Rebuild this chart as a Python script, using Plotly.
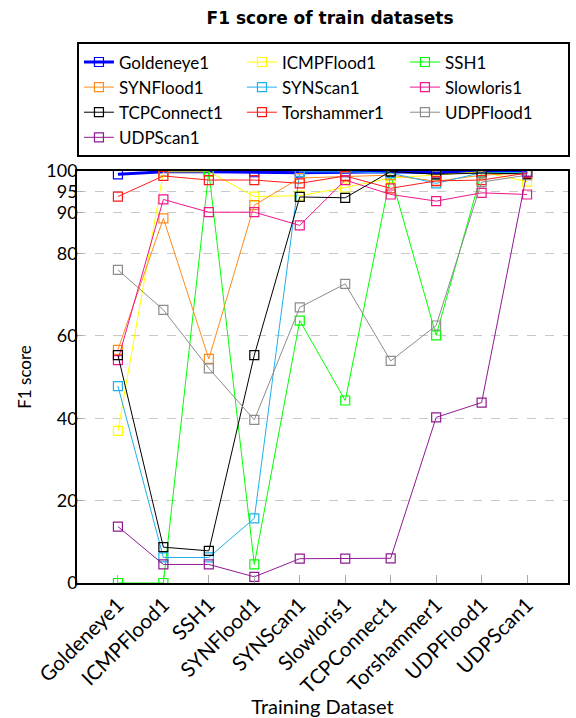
import plotly.graph_objects as go

# Training datasets (x axis)
categories = ["Goldeneye1", "ICMPFlood1", "SSH1", "SYNFlood1", "SYNScan1",
              "Slowloris1", "TCPConnect1", "Torshammer1", "UDPFlood1", "UDPScan1"]

# F1 score of each test dataset, per training dataset
goldeneye1 = [99.2, 99.8, 99.8, 99.7, 99.6, 99.7, 99.8, 99.6, 99.8, 99.8]
icmpflood1 = [36.9, 99.8, 99.8, 93.8, 94.0, 96.0, 98.3, 99.0, 99.8, 97.4]
ssh1 = [0.0, 0.0, 99.9, 4.5, 63.7, 44.3, 99.0, 60.1, 99.6, 99.6]
synflood1 = [56.6, 88.5, 54.4, 91.7, 98.3, 98.6, 99.0, 97.5, 99.0, 99.5]
synscan1 = [47.8, 6.2, 6.2, 15.7, 99.8, 99.8, 99.5, 97.0, 99.6, 99.6]
slowloris1 = [54.1, 93.1, 90.0, 90.0, 86.8, 97.8, 94.3, 92.7, 94.7, 94.3]
tcpconnect1 = [55.3, 8.7, 7.8, 55.3, 93.7, 93.5, 99.9, 99.2, 99.5, 99.3]
torshammer1 = [93.8, 98.8, 97.8, 97.8, 97.0, 98.8, 95.8, 97.6, 97.8, 99.5]
udpflood1 = [76.0, 66.3, 52.1, 39.6, 66.9, 72.6, 53.9, 62.5, 97.3, 99.0]
udpscan1 = [13.7, 4.5, 4.5, 1.5, 5.9, 5.9, 6.0, 40.2, 43.8, 99.8]

y_ticks = [0, 20, 40, 60, 80, 90, 95, 100]

series = [
    ("Goldeneye1", goldeneye1, "#0000FF", 3),
    ("ICMPFlood1", icmpflood1, "#FFFF00", 1),
    ("SSH1", ssh1, "#00FF00", 1),
    ("SYNFlood1", synflood1, "#FF8A1C", 1),
    ("SYNScan1", synscan1, "#1FB0EC", 1),
    ("Slowloris1", slowloris1, "#F0168C", 1),
    ("TCPConnect1", tcpconnect1, "#000000", 1),
    ("Torshammer1", torshammer1, "#FF1A1A", 1),
    ("UDPFlood1", udpflood1, "#8C8C8C", 1),
    ("UDPScan1", udpscan1, "#8E1A91", 1),
]

FONT = "Lato"

fig = go.Figure()
for name, vals, color, lw in series:
    fig.add_trace(go.Scatter(
        x=list(range(len(categories))), y=vals, name=name,
        mode="lines+markers",
        line=dict(color=color, width=lw),
        marker=dict(symbol="square-open", size=9, color=color,
                    line=dict(width=1.2, color=color)),
    ))

fig.update_layout(
    width=576, height=718,
    margin=dict(l=77, r=8, t=171, b=135),
    paper_bgcolor="white", plot_bgcolor="white",
    font=dict(family=FONT, size=17, color="black"),
    title=dict(text="<b>F1 score of train datasets</b>", x=0.573, xanchor="center",
               y=0.975, yanchor="middle",
               font=dict(family="DejaVu Sans", size=17)),
    showlegend=True,
    legend=dict(
        orientation="h", x=-0.0001, xanchor="left", y=1.312, yanchor="top",
        bordercolor="black", borderwidth=2, bgcolor="white",
        entrywidth=118, entrywidthmode="pixels",
        font=dict(family=FONT, size=17), traceorder="normal",
        itemwidth=30,
    ),
)

fig.update_xaxes(
    range=[-0.9, 9.9],
    tickmode="array", tickvals=list(range(len(categories))), ticktext=categories,
    tickangle=-45, tickfont=dict(family=FONT, size=20.5),
    ticks="inside", ticklen=8, tickcolor="#AAAAAA", tickwidth=1,
    showline=True, linecolor="black", linewidth=1.5, mirror=True,
    showgrid=False, zeroline=False, automargin=False,
    title=dict(text="Training Dataset", font=dict(family=FONT, size=20), standoff=14),
)
fig.update_yaxes(
    range=[0, 100],
    tickmode="array", tickvals=y_ticks,
    tickfont=dict(family=FONT, size=18),
    ticks="inside", ticklen=6, tickcolor="#AAAAAA",
    ticklabelstandoff=-6,
    showline=True, linecolor="black", linewidth=1.5, mirror=True,
    showgrid=True, gridcolor="#C8C8C8", griddash="dash", gridwidth=1,
    zeroline=False, automargin=False,
    title=dict(text="F1 score", font=dict(family=FONT, size=17), standoff=10),
)

fig.write_html("out.html")
